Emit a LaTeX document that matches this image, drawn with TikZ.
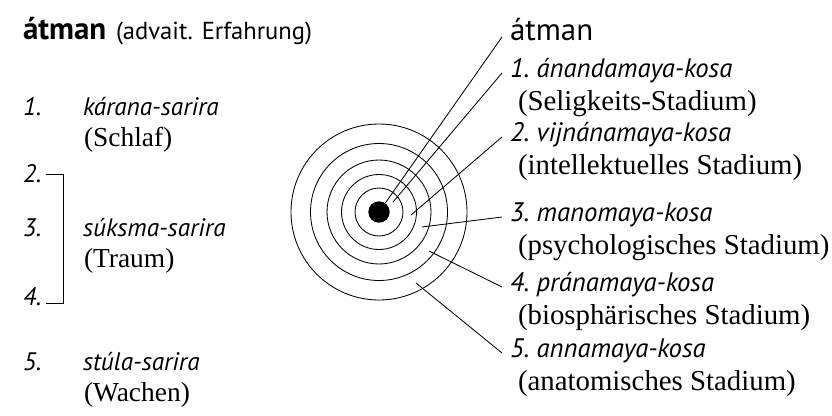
\documentclass[tikz,border=0pt]{standalone}
\usepackage{fontspec}
\setmainfont{Liberation Serif}
\setsansfont{PT Sans}
\usetikzlibrary{calc}
\tikzset{
  txt/.style={anchor=base west, inner sep=0pt, outer sep=0pt},
  lname/.style={txt, font=\sffamily\itshape\fontsize{18}{22}\selectfont},
  lnote/.style={txt, font=\fontsize{19.5}{22}\selectfont},
  rname/.style={txt, font=\sffamily\itshape\fontsize{19}{22}\selectfont},
  rnote/.style={txt, font=\fontsize{20.5}{24}\selectfont},
  ring/.style={draw=black, line width=0.6pt},
  lead/.style={draw=black, line width=0.6pt},
  brack/.style={draw=black, line width=0.5pt}
}
\begin{document}
\begin{tikzpicture}[x=0.025cm,y=-0.025cm]
  \useasboundingbox (0,0) rectangle (832,415);
  % left column
  \node[txt, font=\sffamily\bfseries\fontsize{22}{26}\selectfont] (latm) at (23,39) {átman};
  \node[txt, font=\sffamily\fontsize{17.5}{21}\selectfont] (ladv) at (116,39) {(advait. Erfahrung)};
  \foreach \i/\nm/\nt/\yy in {1/kárana-sarira/Schlaf/115, 3/súksma-sarira/Traum/236, 5/stúla-sarira/Wachen/370} {
    \node[lname] (l\i) at (23,\yy) {\i.};
    \node[lname] (ln\i) at (83,\yy) {\nm};
    \node[lnote] (lt\i) at (84,\yy+31) {(\nt)};
  }
  \node[lname] (l2) at (23,182) {2.};
  \node[lname] (l4) at (23,305) {4.};
  \coordinate (brt) at (63,174);
  \coordinate (brb) at (63,303);
  \draw[brack] ([xshift=3pt]l2.east |- brt) -- (brt) -- (brb) -- ([xshift=3pt]l4.east |- brb);
  % target
  \coordinate (c) at (379,212);
  \foreach \r in {24,37.5,52,68.5,88} \draw[ring] (c) circle[radius=\r];
  \node[circle, fill=black, inner sep=0pt, minimum size=0.535cm] (dot) at (c) {};
  \coordinate (p1) at (393,202);
  \coordinate (p2) at (411,215);
  \coordinate (p3) at (422,227);
  \coordinate (p4) at (429,251);
  \coordinate (p5) at (416,283);
  % right column
  \node[txt, font=\sffamily\fontsize{22}{26}\selectfont] (ratm) at (510,40) {átman};
  \draw[lead] (dot) -- ($(ratm.base west)+(-8,-3)$);
  \foreach \i/\nm/\nt/\yy in {1/ánandamaya-kosa/Seligkeits-Stadium/77, 2/vijnánamaya-kosa/intellektuelles Stadium/141, 3/manomaya-kosa/psychologisches Stadium/221, 4/pránamaya-kosa/biosphärisches Stadium/291, 5/annamaya-kosa/anatomisches Stadium/357} {
    \node[rname] (r\i) at (510,\yy) {\i.\ \nm};
    \node[rnote] (rt\i) at (518,\yy+33) {(\nt)};
    \draw[lead] (p\i) -- ($(r\i.base west)+(-8,-4)$);
  }
\end{tikzpicture}
\end{document}
